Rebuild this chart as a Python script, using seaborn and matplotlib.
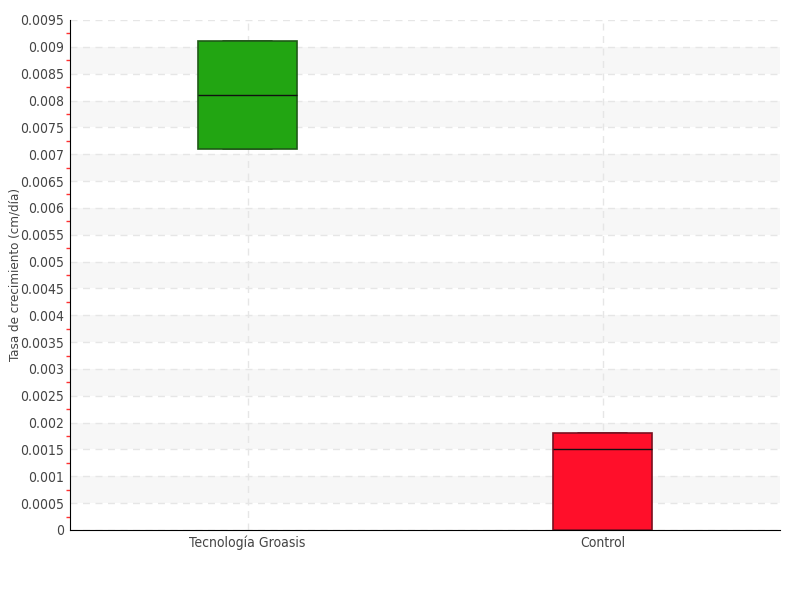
import matplotlib
matplotlib.use('Agg')
import matplotlib.pyplot as plt
import seaborn as sns
import pandas as pd
import numpy as np
from matplotlib.ticker import MultipleLocator

# valores (cuartiles: min/Q1, mediana, Q3/max)
grupos = ['Tecnología Groasis', 'Control']
groasis = [0.0071, 0.0071, 0.0081, 0.0091, 0.0091]
control = [0.0, 0.0, 0.0015, 0.0018, 0.0018]
colores = ['#22a512', '#ff0f2a']
bordes = ['#1f5a17', '#7a1020']

df = pd.DataFrame({
    'grupo': [grupos[0]] * len(groasis) + [grupos[1]] * len(control),
    'tasa': groasis + control,
})

sns.set_style('white')
plt.rcParams['font.family'] = ['DejaVu Sans']
plt.rcParams['font.stretch'] = 'condensed'

fig = plt.figure(figsize=(8, 6), dpi=100)
ax = fig.add_axes([0.0875, 0.1167, 0.8875, 0.85])

sns.boxplot(data=df, x='grupo', y='tasa', hue='grupo', palette=colores,
            saturation=1, width=0.28, whis=0, showfliers=False, linewidth=1.2,
            medianprops={'color': '#111111', 'linewidth': 1, 'zorder': 5},
            ax=ax, legend=False)

for patch, b in zip(list(ax.patches), bordes):
    patch.set_edgecolor(b)
    patch.set_zorder(3)

# bandas grises alternas
for y0 in np.arange(0.0005, 0.0095, 0.001):
    ax.axhspan(y0, y0 + 0.0005, facecolor='#f7f7f7', edgecolor='none', zorder=0)

ax.set_xlim(-0.5, 1.5)
ax.set_ylim(0, 0.0095)
ticks = np.arange(0, 0.00951, 0.0005)
ax.set_yticks(ticks)
ax.set_yticklabels(['0'] + [f'{t:.4f}'.rstrip('0') for t in ticks[1:]])
ax.yaxis.set_minor_locator(MultipleLocator(0.00025))

ax.grid(True, axis='both', linestyle=(0, (5, 4)), color='#e6e6e6', linewidth=1, zorder=1)
ax.set_axisbelow(True)
ax.tick_params(axis='y', which='major', direction='inout', length=5, color='black',
               labelsize=10, labelcolor='#444444', pad=2)
ax.tick_params(axis='y', which='minor', direction='out', length=3, width=1, color='#ff3030', left=True)
ax.tick_params(axis='x', direction='inout', length=4, labelsize=10, labelcolor='#444444', pad=2)

for s in ['top', 'right']:
    ax.spines[s].set_visible(False)
ax.spines['left'].set_color('black')
ax.spines['bottom'].set_color('black')

ax.set_xlabel('')
ax.set_ylabel('Tasa de crecimiento (cm/día)', fontsize=9.5, color='#444444')
ax.yaxis.set_label_coords(-0.069, 0.5)

fig.savefig('out.png', dpi=100)
